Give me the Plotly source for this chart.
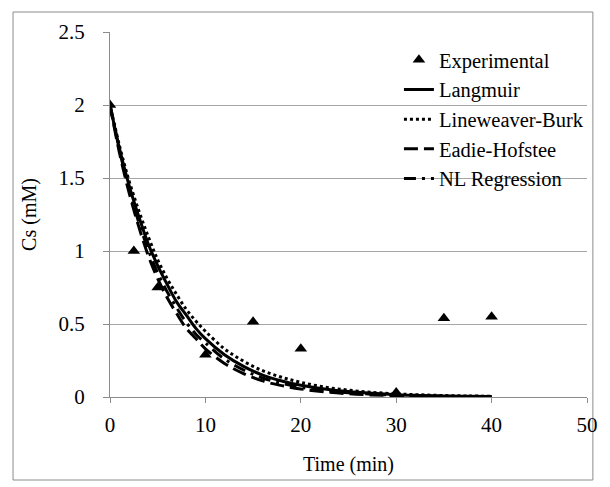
import plotly.graph_objects as go

# Experimental data
t_exp = [0, 2.5, 5, 10, 15, 20, 30, 35, 40]
cs_exp = [2.0, 1.0, 0.75, 0.29, 0.515, 0.33, 0.03, 0.54, 0.55]

# Model curves
t_model = [0, 1, 2, 3, 4, 5, 6, 7, 8, 9, 10, 12, 14, 16, 18, 20,
           22.5, 25, 27.5, 30, 32.5, 35, 37.5, 40]
cs_langmuir = [2.00, 1.70, 1.45, 1.24, 1.05, 0.90, 0.77, 0.65, 0.56, 0.47, 0.40,
               0.29, 0.21, 0.15, 0.11, 0.08, 0.055, 0.037, 0.025, 0.016, 0.011,
               0.007, 0.005, 0.003]
cs_lineweaver = [2.00, 1.72, 1.48, 1.28, 1.10, 0.94, 0.81, 0.70, 0.60, 0.52, 0.45,
                 0.33, 0.245, 0.18, 0.135, 0.10, 0.068, 0.047, 0.032, 0.022, 0.015,
                 0.010, 0.007, 0.005]
cs_eadie = [2.00, 1.67, 1.40, 1.17, 0.97, 0.81, 0.68, 0.57, 0.47, 0.40, 0.33,
            0.23, 0.16, 0.11, 0.078, 0.055, 0.035, 0.022, 0.014, 0.009, 0.006,
            0.004, 0.002, 0.001]
cs_nl = [2.00, 1.69, 1.42, 1.20, 1.01, 0.85, 0.72, 0.61, 0.51, 0.43, 0.37,
         0.26, 0.185, 0.13, 0.094, 0.067, 0.044, 0.029, 0.019, 0.012, 0.008,
         0.005, 0.003, 0.002]

x_ticks = [0, 10, 20, 30, 40, 50]
y_ticks = [0, 0.5, 1, 1.5, 2, 2.5]
y_tick_text = ["0", "0.5", "1", "1.5", "2", "2.5"]

FONT = "Liberation Serif"
F = dict(family=FONT, size=21, color="black")
FL = dict(family=FONT, size=20.5, color="black")
FT = dict(family=FONT, size=20, color="black")

fig = go.Figure()
fig.add_trace(go.Scatter(x=t_exp, y=cs_exp, mode="markers", name="Experimental",
                         legendgroup="a",
                         marker=dict(symbol="triangle-up", size=11, color="black")))
fig.add_trace(go.Scatter(x=t_model, y=cs_langmuir, mode="lines", name="Langmuir",
                         legendgroup="b", line_shape="spline",
                         line=dict(color="black", width=3)))
fig.add_trace(go.Scatter(x=t_model, y=cs_lineweaver, mode="lines", name="Lineweaver-Burk",
                         legendgroup="c", line_shape="spline",
                         line=dict(color="black", width=3, dash="dot")))
fig.add_trace(go.Scatter(x=t_model, y=cs_eadie, mode="lines", name="Eadie-Hofstee",
                         legendgroup="d", line_shape="spline",
                         line=dict(color="black", width=3, dash="14px,6px")))
fig.add_trace(go.Scatter(x=t_model, y=cs_nl, mode="lines", name="NL Regression",
                         legendgroup="e", line_shape="spline",
                         line=dict(color="black", width=3, dash="12px,6px,3px,6px")))

L, R, T, B = 110, 13, 32, 90
W, H = 610, 487
pw, ph = W - L - R, H - T - B

fig.update_layout(
    width=W, height=H,
    margin=dict(l=L, r=R, t=T, b=B),
    paper_bgcolor="white", plot_bgcolor="white",
    font=F,
    showlegend=True,
    legend=dict(x=(405 - L) / pw, y=(397 - 40) / ph, xanchor="left", yanchor="top",
                bgcolor="rgba(0,0,0,0)", font=FL,
                traceorder="grouped", tracegroupgap=0),
    xaxis=dict(range=[0, 50], tickvals=x_ticks, showgrid=False, zeroline=False,
               showline=True, linecolor="#8c8c8c", linewidth=1,
               ticks="outside", ticklen=5, tickcolor="#8c8c8c",
               tickfont=F, ticklabelstandoff=4,
               title=dict(text="Time (min)", font=FT, standoff=20)),
    yaxis=dict(range=[0, 2.5], tickvals=y_ticks, ticktext=y_tick_text,
               showgrid=True, gridcolor="#a6a6a6", gridwidth=1, zeroline=False,
               showline=True, linecolor="#8c8c8c", linewidth=1,
               ticks="outside", ticklen=6, tickcolor="#8c8c8c",
               tickfont=F, ticklabelstandoff=14,
               title=dict(text="Cs (mM)", font=FT, standoff=16)),
    shapes=[dict(type="rect", xref="paper", yref="paper",
                 x0=(11 - L) / pw, x1=(603 - L) / pw,
                 y0=(H - B - 480) / ph, y1=(H - B - 12) / ph,
                 line=dict(color="#8c8c8c", width=1), fillcolor="rgba(0,0,0,0)",
                 layer="below")],
)

fig.write_html("out.html")
